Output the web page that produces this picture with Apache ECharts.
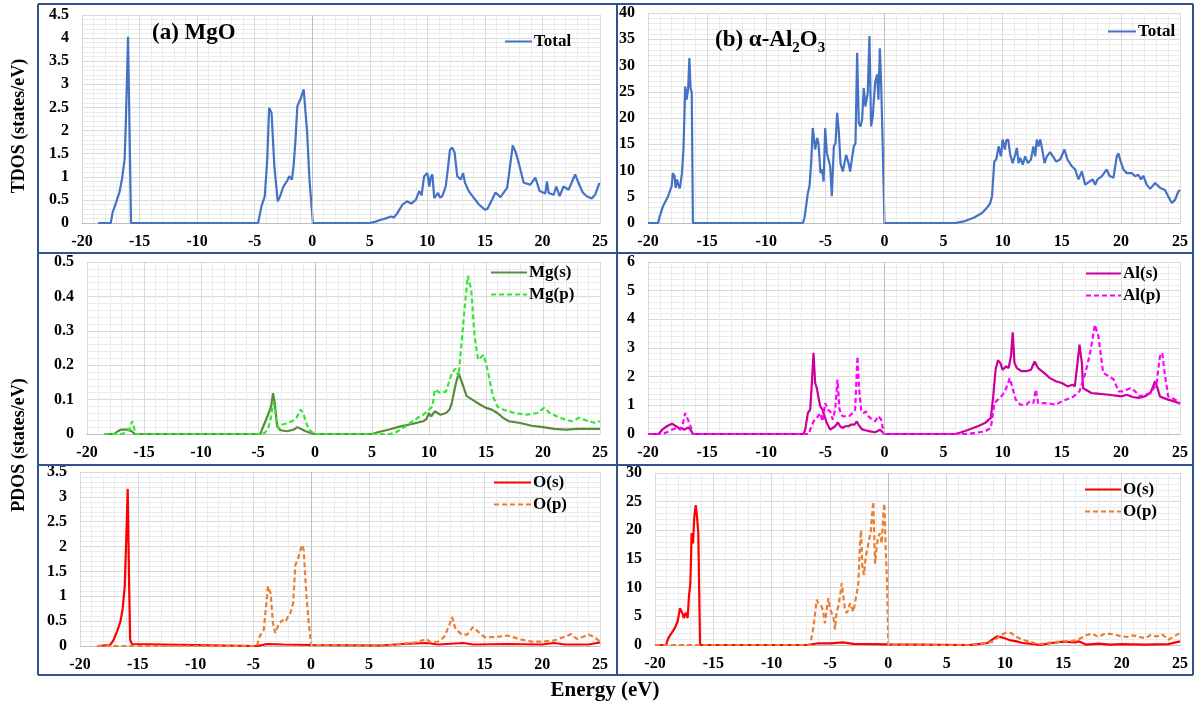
<!DOCTYPE html>
<html><head><meta charset="utf-8">
<script src="https://cdn.jsdelivr.net/npm/echarts/dist/echarts.min.js"></script>
<style>html,body{margin:0;padding:0;background:#fff}#c{width:1196px;height:707px}</style>
</head><body><div id="c"></div><script>
// ---- data: [energy (eV), DOS (states/eV)] ----
const mgoTotal = [[-18.6,0],[-17.5,0],[-17.35,0.22],[-17.06,0.43],[-16.76,0.65],[-16.53,0.94],[-16.3,1.37],[-16.2,2.1],[-16.0,4.03],[-15.74,0],[-4.7,0],[-4.41,0.36],[-4.12,0.58],[-3.91,1.37],[-3.74,2.49],[-3.53,2.38],[-3.29,1.23],[-3.0,0.47],[-2.79,0.58],[-2.5,0.79],[-2.2,0.9],[-2.0,1.01],[-1.76,0.94],[-1.62,1.23],[-1.47,1.73],[-1.29,2.53],[-1.03,2.67],[-0.74,2.89],[-0.59,2.93],[-0.44,1.95],[-0.24,0.94],[0.06,0],[5.0,0],[5.5,0.03],[5.97,0.07],[6.4,0.1],[6.84,0.14],[7.1,0.12],[7.41,0.22],[7.85,0.4],[8.22,0.47],[8.6,0.42],[9.0,0.5],[9.29,0.69],[9.5,0.6],[9.72,1.01],[10.0,1.08],[10.18,0.79],[10.3,1.0],[10.44,1.05],[10.6,0.54],[10.93,0.65],[11.1,0.55],[11.3,0.58],[11.6,0.79],[11.74,1.08],[11.97,1.59],[12.17,1.63],[12.37,1.52],[12.6,1.01],[12.9,0.94],[13.1,1.08],[13.27,0.87],[13.6,0.69],[14.05,0.54],[14.48,0.4],[15.0,0.29],[15.2,0.3],[15.63,0.51],[15.92,0.66],[16.35,0.56],[16.93,0.76],[17.13,1.12],[17.42,1.68],[17.65,1.55],[17.94,1.3],[18.37,0.87],[18.95,0.83],[19.38,0.98],[19.76,0.69],[20.25,0.64],[20.39,0.9],[20.54,0.65],[20.97,0.61],[21.2,0.79],[21.49,0.58],[21.83,0.79],[22.27,0.72],[22.84,1.05],[23.13,0.87],[23.5,0.66],[23.85,0.58],[24.29,0.53],[24.57,0.61],[24.95,0.87]];
const al2o3Total = [[-20,0],[-19.15,0],[-19.0,1.3],[-18.73,3.2],[-18.3,5.1],[-18.0,7.0],[-17.9,9.5],[-17.75,8.9],[-17.66,6.7],[-17.55,8.3],[-17.4,7.0],[-17.3,6.6],[-17.13,9.5],[-17.0,14],[-16.85,26],[-16.73,23.5],[-16.6,25.7],[-16.5,31.4],[-16.4,25.7],[-16.3,24.8],[-16.2,0],[-6.9,0],[-6.76,1],[-6.48,5.7],[-6.34,7],[-6.2,11.4],[-6.06,18.1],[-5.86,14],[-5.69,16.2],[-5.58,15.2],[-5.41,9.5],[-5.27,10.2],[-5.15,7.9],[-5.01,18.1],[-4.87,13.3],[-4.73,12.1],[-4.59,10.8],[-4.45,5.1],[-4.28,14.6],[-4.14,15.2],[-4.0,21],[-3.86,17.5],[-3.72,11.4],[-3.52,9.8],[-3.38,11.4],[-3.24,13],[-3.04,11.4],[-2.9,9.8],[-2.76,12.1],[-2.59,14.6],[-2.45,15.2],[-2.31,32.4],[-2.17,19],[-2.03,18.4],[-1.89,19.7],[-1.75,25.7],[-1.61,22.2],[-1.41,24.8],[-1.27,35.6],[-1.13,18.4],[-0.99,20.3],[-0.79,26.7],[-0.62,28.3],[-0.51,23.5],[-0.39,33.3],[-0.28,26.7],[-0.14,14],[0,0],[6.0,0],[6.7,0.3],[7.55,1],[8.25,1.9],[8.67,2.9],[8.95,3.8],[9.1,5.1],[9.29,11.7],[9.46,12.1],[9.66,14.6],[9.85,12.7],[10.0,15.9],[10.19,14],[10.3,15.7],[10.47,15.9],[10.64,13],[10.84,11.4],[11.06,13],[11.2,14.3],[11.35,11.4],[11.49,12.4],[11.7,11.1],[11.9,12.7],[12.13,11.4],[12.39,12.1],[12.6,14.6],[12.75,12.7],[12.89,15.9],[13.03,14.6],[13.18,15.9],[13.37,13.7],[13.54,11.4],[13.74,12.7],[14.02,13.5],[14.25,12.7],[14.53,11.7],[14.86,12.1],[15.23,14],[15.48,12.1],[15.85,10.8],[16.13,10.2],[16.41,8.3],[16.7,9.8],[16.98,7.3],[17.34,7.9],[17.62,8.3],[17.82,7.3],[18.02,8.3],[18.38,8.9],[18.8,10.2],[19.03,9.0],[19.37,8.6],[19.65,12.7],[19.79,13.3],[19.93,12.1],[20.21,10.2],[20.5,9.5],[20.92,9.5],[21.2,8.9],[21.48,9.2],[21.7,8.3],[21.9,9.0],[22.18,7.3],[22.47,6.5],[22.9,7.6],[23.31,6.7],[23.73,6.3],[24.0,5.1],[24.3,3.8],[24.58,4.4],[24.86,6],[25,6.3]];
const mgS = [[-18.5,0],[-17.6,0],[-17.3,0.008],[-17.0,0.013],[-16.4,0.013],[-16.1,0.008],[-15.8,0],[-4.8,0],[-4.65,0.013],[-4.35,0.037],[-4.06,0.061],[-3.85,0.08],[-3.68,0.119],[-3.53,0.09],[-3.32,0.022],[-3.03,0.011],[-2.44,0.008],[-1.85,0.013],[-1.56,0.02],[-1.26,0.015],[-0.82,0.008],[-0.38,0.003],[0,0],[5,0],[5.5,0.005],[6.5,0.013],[7.5,0.022],[8.5,0.029],[9.5,0.037],[9.8,0.045],[10,0.061],[10.2,0.051],[10.5,0.066],[11,0.056],[11.5,0.061],[11.8,0.071],[12,0.09],[12.3,0.139],[12.6,0.177],[13,0.139],[13.3,0.11],[13.8,0.1],[14.5,0.085],[15,0.076],[15.5,0.071],[16,0.061],[16.5,0.047],[17,0.037],[18,0.032],[19,0.024],[20,0.02],[21,0.015],[22,0.013],[23,0.015],[25,0.015]];
const mgP = [[-18.5,0],[-17.0,0],[-16.7,0.003],[-16.26,0.013],[-16.03,0.037],[-15.9,0.022],[-15.74,0],[-4.6,0],[-4.35,0.005],[-4.06,0.022],[-3.85,0.051],[-3.68,0.09],[-3.53,0.08],[-3.38,0.032],[-3.18,0.017],[-2.88,0.027],[-2.44,0.032],[-2.0,0.037],[-1.62,0.047],[-1.26,0.071],[-1.03,0.061],[-0.82,0.037],[-0.53,0.013],[-0.09,0],[6.5,0],[7,0.003],[7.5,0.013],[8,0.024],[9,0.047],[9.5,0.056],[10,0.071],[10.3,0.08],[10.5,0.129],[11,0.119],[11.5,0.124],[12,0.177],[12.3,0.19],[12.6,0.168],[13,0.32],[13.4,0.46],[13.7,0.42],[14,0.284],[14.3,0.216],[14.8,0.23],[15.2,0.177],[15.6,0.11],[16,0.08],[16.5,0.071],[17.5,0.061],[18.5,0.056],[19.5,0.061],[20.1,0.076],[20.6,0.061],[21.5,0.047],[22.5,0.037],[23.2,0.047],[24,0.037],[24.6,0.032],[25,0.037]];
const alS = [[-20,0],[-19.1,0],[-18.8,0.15],[-18.4,0.27],[-17.97,0.36],[-17.83,0.41],[-17.63,0.27],[-17.4,0.21],[-17.2,0.21],[-16.9,0.15],[-16.6,0.23],[-16.4,0.15],[-16.2,0],[-6.85,0],[-6.7,0.15],[-6.48,0.73],[-6.28,0.85],[-6.14,1.78],[-6.0,2.83],[-5.86,1.78],[-5.72,1.6],[-5.58,1.55],[-5.44,0.97],[-5.24,0.85],[-5.07,0.62],[-4.87,0.38],[-4.73,0.44],[-4.59,0.15],[-4.45,0.09],[-4.17,0.27],[-3.94,0.41],[-3.75,0.27],[-3.55,0.21],[-3.32,0.27],[-3.04,0.27],[-2.82,0.33],[-2.54,0.33],[-2.34,0.44],[-2.2,0.33],[-1.92,0.17],[-1.63,0.13],[-1.21,0.09],[-0.79,0.06],[-0.37,0.15],[-0.23,0.09],[0,0],[6,0],[6.5,0.06],[7,0.13],[7.5,0.21],[8,0.29],[8.5,0.38],[9,0.56],[9.2,1.31],[9.4,2.24],[9.6,2.57],[9.8,2.48],[10.0,2.24],[10.3,2.36],[10.5,2.3],[10.7,2.71],[10.85,3.55],[11.0,2.48],[11.2,2.3],[11.6,2.19],[12.0,2.19],[12.4,2.24],[12.7,2.53],[13,2.3],[13.5,2.13],[14,1.95],[14.5,1.84],[15,1.78],[15.5,1.66],[15.9,1.72],[16.1,1.66],[16.3,2.36],[16.5,3.12],[16.7,2.48],[16.8,1.6],[17,1.55],[17.5,1.43],[18,1.41],[19,1.37],[20,1.31],[20.5,1.37],[21,1.29],[21.5,1.26],[22,1.31],[22.5,1.43],[22.9,1.84],[23.1,1.6],[23.3,1.31],[23.6,1.26],[24,1.2],[24.5,1.14],[25,1.06]];
const alP = [[-20,0],[-18.8,0],[-18.4,0.06],[-18,0.15],[-17.55,0.21],[-17.27,0.15],[-17.07,0.33],[-16.85,0.73],[-16.62,0.5],[-16.4,0.27],[-16.22,0],[-6.4,0],[-6.28,0.15],[-6.0,0.44],[-5.72,0.56],[-5.44,0.73],[-5.24,0.44],[-5.01,1.08],[-4.79,0.85],[-4.59,0.79],[-4.37,0.5],[-4.17,0.85],[-3.97,1.9],[-3.8,0.85],[-3.55,0.62],[-3.27,0.62],[-2.99,0.62],[-2.7,0.73],[-2.48,0.85],[-2.28,2.71],[-2.14,1.55],[-1.97,0.85],[-1.77,0.73],[-1.58,0.79],[-1.35,0.62],[-1.07,0.5],[-0.79,0.44],[-0.51,0.62],[-0.28,0.5],[-0.11,0.15],[0,0],[7,0],[7.5,0.03],[8,0.06],[8.5,0.09],[9,0.21],[9.3,1.08],[9.6,1.2],[10,1.37],[10.3,1.6],[10.6,1.95],[10.8,1.66],[11.1,1.2],[11.5,1.02],[12,1.02],[12.3,1.14],[12.6,1.08],[12.8,1.55],[13,1.08],[13.5,1.08],[14,1.06],[14.5,1.02],[15,1.14],[15.5,1.22],[16,1.31],[16.5,1.49],[17,2.13],[17.4,2.83],[17.8,3.81],[18.1,3.41],[18.5,2.13],[19,2.01],[19.4,1.9],[19.8,1.49],[20.2,1.49],[20.8,1.6],[21.2,1.49],[21.6,1.31],[22,1.37],[22.5,1.43],[23,1.72],[23.3,2.71],[23.5,2.83],[23.7,2.13],[24,1.31],[24.5,1.22],[25,1.08]];
const mgoOS = [[-18.5,0],[-17.4,0.02],[-17.1,0.12],[-16.8,0.29],[-16.5,0.49],[-16.3,0.76],[-16.13,1.2],[-15.98,2.27],[-15.87,3.16],[-15.75,1.26],[-15.66,0.12],[-15.5,0.04],[-15.4,0],[-4.7,0],[-3.8,0.04],[-2.4,0.03],[0,0.02],[6,0.01],[8,0.04],[10,0.06],[11,0.03],[13.2,0.06],[14,0.03],[17,0.04],[20,0.03],[21,0.06],[22,0.03],[24,0.03],[25,0.07]];
const mgoOP = [[-18.5,0],[-4.7,0],[-4.4,0.22],[-4.1,0.32],[-3.9,0.79],[-3.73,1.2],[-3.5,1.06],[-3.3,0.46],[-3.1,0.26],[-2.8,0.44],[-2.5,0.52],[-2.2,0.49],[-2.0,0.59],[-1.8,0.66],[-1.56,0.86],[-1.36,1.63],[-1.16,1.73],[-0.92,1.93],[-0.78,2.03],[-0.64,1.93],[-0.4,0.99],[-0.2,0.46],[0,0.02],[6.5,0],[7,0.02],[8,0.05],[9,0.07],[10,0.14],[10.3,0.08],[11,0.09],[11.5,0.18],[11.9,0.38],[12.2,0.58],[12.5,0.34],[13,0.24],[13.5,0.23],[14,0.38],[14.5,0.28],[15,0.18],[16,0.18],[17,0.21],[18,0.14],[19,0.09],[20,0.09],[21,0.11],[22,0.19],[22.5,0.24],[23,0.14],[23.5,0.18],[24,0.23],[24.5,0.18],[25,0.09]];
const alOS = [[-20,0],[-19.06,0],[-18.86,1.2],[-18.57,2.1],[-18.29,3.0],[-18.06,4.1],[-17.86,6.4],[-17.66,5.6],[-17.54,4.7],[-17.37,5.6],[-17.2,4.7],[-17.09,8.5],[-16.97,10.8],[-16.86,19.5],[-16.74,17.7],[-16.63,22.4],[-16.51,24.4],[-16.4,22.4],[-16.29,19.5],[-16.14,0],[-7,0],[-6,0.3],[-4.9,0.3],[-3.9,0.45],[-3,0.2],[0,0.1],[7,0],[8.5,0.35],[9.3,1.5],[9.8,1.3],[10.5,0.8],[11,0.64],[11.5,0.35],[12.5,0.15],[13,0],[14,0.35],[15,0.58],[16,0.46],[16.3,0.64],[17,0.06],[18,0.23],[19,0.06],[20,0.15],[22,0.06],[24,0.15],[25,0.64]];
const alOP = [[-20,0],[-6.7,0],[-6.43,2.95],[-6.14,7.9],[-6.0,7.3],[-5.86,7.6],[-5.71,6.7],[-5.57,5.6],[-5.43,3.8],[-5.29,6.1],[-5.14,8.2],[-5.0,6.4],[-4.86,5.6],[-4.71,5.0],[-4.57,2.7],[-4.43,5.8],[-4.29,6.7],[-4.14,8.5],[-4,10.8],[-3.86,8.5],[-3.71,6.1],[-3.57,5.6],[-3.43,6.1],[-3.29,7.3],[-3.14,7.0],[-3.0,5.8],[-2.86,7.3],[-2.71,9.0],[-2.57,10.8],[-2.43,17.7],[-2.34,20.0],[-2.23,13.7],[-2.09,12.2],[-1.94,15.4],[-1.8,16.6],[-1.66,18.3],[-1.51,19.5],[-1.43,21.8],[-1.29,25],[-1.14,14.2],[-1.0,17.1],[-0.86,18.9],[-0.71,19.5],[-0.57,17.7],[-0.43,22.9],[-0.34,24.7],[-0.23,17.1],[-0.11,10.8],[0,0],[7,0],[8,0.23],[9,0.64],[9.5,1.5],[10,2.1],[10.5,2.1],[11,1.4],[11.5,0.93],[12,0.64],[12.5,0.35],[13,0.15],[14,0.46],[15,0.64],[16,0.75],[16.5,1.2],[17,1.74],[17.5,1.97],[18,1.4],[18.5,1.9],[19,1.97],[19.5,1.74],[20,1.5],[20.5,1.4],[21,1.68],[21.5,1.4],[22,1.2],[22.5,1.74],[23,1.5],[23.5,1.8],[24,0.93],[24.5,1.5],[25,2.1]];

// axis ranges
const xRange = [-20, 25, 5];
const yMaxes = [4.5, 40, 0.5, 6, 3.5, 30];
const ySteps = [0.5, 5, 0.1, 1, 0.5, 5];

const FONT = '"Liberation Serif","Times New Roman",serif';
const panels = [
  {grid:{left:82,top:15,width:518,height:208}, lines:[['Total',mgoTotal,'#4472c4',false]], leg:{left:504,top:33,w:27}},
  {grid:{left:648,top:13,width:532,height:210}, lines:[['Total',al2o3Total,'#4472c4',false]], leg:{left:1107,top:23,w:28}},
  {grid:{left:87,top:262,width:513,height:172}, lines:[['Mg(s)',mgS,'#5a8a3c',false],['Mg(p)',mgP,'#33e633',true]], leg:{left:490,top:264,w:36}},
  {grid:{left:648,top:262,width:532,height:172}, lines:[['Al(s)',alS,'#cc0099',false],['Al(p)',alP,'#ff00ff',true]], leg:{left:1085,top:265,w:35}},
  {grid:{left:80,top:472,width:520,height:174}, lines:[['O(s)',mgoOS,'#ff0000',false],['O(p)',mgoOP,'#ed7d31',true]], leg:{left:493,top:474,w:37}},
  {grid:{left:655,top:473,width:525,height:172}, lines:[['O(s)',alOS,'#ff0000',false],['O(p)',alOP,'#ed7d31',true]], leg:{left:1084,top:481,w:36}}
];

const grid=[], xAxis=[], yAxis=[], series=[], legend=[];
panels.forEach((p,i)=>{
  grid.push(Object.assign({containLabel:false}, p.grid));
  xAxis.push({type:'value', gridIndex:i, min:xRange[0], max:xRange[1], interval:xRange[2],
    axisLine:{show:true, lineStyle:{color:'#bfbfbf', width:1}}, axisTick:{show:false},
    axisLabel:{fontFamily:FONT, fontWeight:'bold', fontSize:16, color:'#000', margin:11},
    splitLine:{show:true, lineStyle:{color:'#d9d9d9', width:1}},
    minorTick:{show:false, splitNumber:5}, minorSplitLine:{show:true, lineStyle:{color:'#ebebeb', width:1}}});
  yAxis.push({type:'value', gridIndex:i, min:0, max:yMaxes[i], interval:ySteps[i],
    axisLine:{show:false}, axisTick:{show:false},
    axisLabel:{fontFamily:FONT, fontWeight:'bold', fontSize:16, color:'#000', margin:13},
    splitLine:{show:true, lineStyle:{color:'#d9d9d9', width:1}},
    minorTick:{show:false, splitNumber:5}, minorSplitLine:{show:true, lineStyle:{color:'#ebebeb', width:1}}});
  series.push({type:'line', xAxisIndex:i, yAxisIndex:i, data:[], z:1, silent:true,
    markLine:{silent:true, symbol:'none', animation:false, label:{show:false},
      lineStyle:{color:'#bfbfbf', width:1, type:'solid'}, data:[{xAxis:0}]}});
  p.lines.forEach(l=>{
    series.push({type:'line', name:l[0], xAxisIndex:i, yAxisIndex:i, data:l[1], symbol:'none', showSymbol:false, z:3,
      color:l[2], lineStyle:{color:l[2], width:2.2, type:l[3]?[5,3]:'solid'}});
  });
  legend.push({data:p.lines.map(l=>l[0]), orient:'vertical', left:p.leg.left, top:p.leg.top, padding:0,
    itemWidth:p.leg.w, itemHeight:14, itemGap:5, selectedMode:false,
    itemStyle:{opacity:0, borderWidth:0},
    textStyle:{fontFamily:FONT, fontWeight:'bold', fontSize:17, color:'#000', padding:[0,0,0,-3]}});
});

const B = '#33508f';
const frame = [[38,4,1193,4],[38,675,1193,675],[38,4,38,675],[1193,4,1193,675],[617,4,617,675],[38,253,1193,253],[38,465,1193,465]];
const graphic = frame.map(f=>({type:'line', shape:{x1:f[0],y1:f[1],x2:f[2],y2:f[3]}, style:{stroke:B, lineWidth:2}, z:10}));
graphic.push({type:'text', x:19, y:126, rotation:Math.PI/2, style:{text:'TDOS (states/eV)', font:'bold 18px '+FONT, fill:'#000', textAlign:'center', textVerticalAlign:'middle'}});
graphic.push({type:'text', x:19, y:445, rotation:Math.PI/2, style:{text:'PDOS (states/eV)', font:'bold 18px '+FONT, fill:'#000', textAlign:'center', textVerticalAlign:'middle'}});
graphic.push({type:'text', x:605, y:691, style:{text:'Energy (eV)', font:'bold 21px '+FONT, fill:'#000', textAlign:'center', textVerticalAlign:'middle'}});

const title = [
  {text:'(a) MgO', left:147, top:17, textStyle:{fontFamily:FONT, fontWeight:'bold', fontSize:23, color:'#000'}},
  {text:'{m|(b) α-Al}{s|2}{m|O}{s|3}', left:710, top:19, textStyle:{rich:{
    m:{fontFamily:FONT, fontWeight:'bold', fontSize:23, color:'#000', verticalAlign:'bottom', lineHeight:28},
    s:{fontFamily:FONT, fontWeight:'bold', fontSize:15, color:'#000', verticalAlign:'bottom', lineHeight:28, padding:[0,0,-4,0]}}}}
];

const chart = echarts.init(document.getElementById('c'), null, {renderer:'canvas'});
chart.setOption({animation:false, backgroundColor:'#fff', title, grid, xAxis, yAxis, series, legend, graphic});
</script></body></html>
